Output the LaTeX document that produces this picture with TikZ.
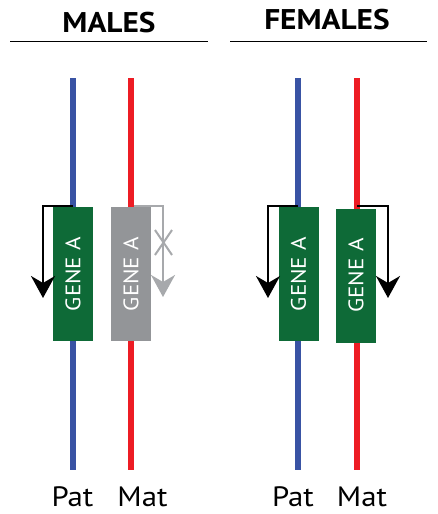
\documentclass[tikz,border=0pt]{standalone}
\usepackage{fontspec}
\setmainfont{PT Sans}[FakeStretch=1.1]
\usetikzlibrary{arrows.meta}
\definecolor{patblue}{RGB}{57,83,164}
\definecolor{matred}{RGB}{237,28,36}
\definecolor{genegreen}{RGB}{14,106,55}
\definecolor{silentgray}{RGB}{147,149,152}
\definecolor{arrowgray}{RGB}{167,169,172}
\tikzset{
  chrom/.style={line width=6.5pt},
  genebox/.style={rotate=90, minimum width=134pt, minimum height=40pt, inner sep=0pt,
    text=white, font=\fontsize{21}{21}\selectfont},
  active/.style={genebox, fill=genegreen},
  silent/.style={genebox, fill=silentgray},
  tx/.style={line width=2.2pt, -{Stealth[length=22pt, width=24pt, inset=7pt]}},
  title/.style={anchor=base, font=\fontsize{28.5}{28.5}\selectfont\bfseries},
  allele/.style={anchor=base, font=\fontsize{28}{28}\selectfont},
  rule/.style={line width=1.5pt}
}
\begin{document}
\begin{tikzpicture}[x=1pt, y=-1pt]
\useasboundingbox (0,0) rectangle (437,514);
\fill[white] (0,0) rectangle (437,514);

% headings and rules
\node[title] (mt) at (109,32) {MALES};
\node[title] (ft) at (327,29) {FEMALES};
\coordinate (ml1) at (10,41.5);  \coordinate (ml2) at (208,41.5);
\coordinate (fl1) at (230,41.5); \coordinate (fl2) at (427,41.5);
\draw[rule] (ml1) -- (ml2);
\draw[rule] (fl1) -- (fl2);

% chromosomes
\coordinate (mpT) at (73,78);    \coordinate (mpB) at (73,470);
\coordinate (mmT) at (131,78);   \coordinate (mmB) at (131,470);
\coordinate (fpT) at (298,78);   \coordinate (fpB) at (298,470);
\coordinate (fmT) at (357,78);   \coordinate (fmB) at (357,470);
\draw[chrom, patblue] (mpT) -- (mpB);
\draw[chrom, matred] (mmT) -- (mmB);
\draw[chrom, patblue] (fpT) -- (fpB);
\draw[chrom, matred] (fmT) -- (fmB);

% gene boxes
\node[active] (mpg) at (73,274) {GENE A};
\node[silent] (mmg) at (131,274) {GENE A};
\node[active] (fpg) at (298.5,274) {GENE A};
\node[active] (fmg) at (356,275.5) {GENE A};

% transcription arrows
\coordinate (mpS) at (73,206);   \coordinate (mpE) at (43,298);
\coordinate (mmS) at (134,206);  \coordinate (mmE) at (163,297);
\coordinate (fpS) at (298,206);  \coordinate (fpE) at (268,298);
\coordinate (fmS) at (357,206);  \coordinate (fmE) at (388,298);
\draw[tx] (mpS) -| (mpE);
\draw[tx, arrowgray] (mmS) -| (mmE);
\draw[tx] (fpS) -| (fpE);
\draw[tx] (fmS) -| (fmE);

% blocked transcription mark
\coordinate (x1) at (155,230); \coordinate (x2) at (172,255);
\coordinate (x3) at (172,230); \coordinate (x4) at (155,255);
\draw[arrowgray, line width=2pt] (x1) -- (x2) (x3) -- (x4);

% allele labels
\node[allele] (mpl) at (72.5,506) {Pat};
\node[allele] (mml) at (142.5,506) {Mat};
\node[allele] (fpl) at (293,506) {Pat};
\node[allele] (fml) at (362,506) {Mat};
\end{tikzpicture}
\end{document}
